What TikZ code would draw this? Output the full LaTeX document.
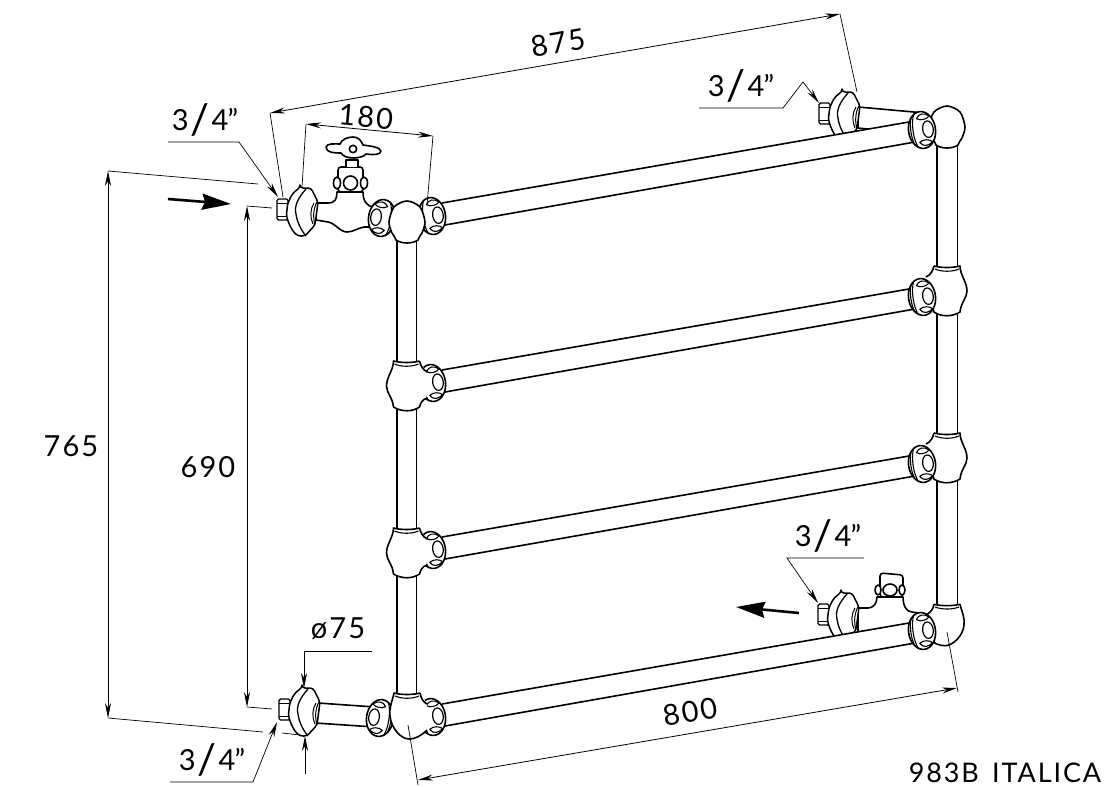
\documentclass[tikz,border=0pt]{standalone}
\usepackage{fontspec}
\setmainfont{Lato}
\newfontfamily\dimfont[LetterSpace=7]{Lato}
\usetikzlibrary{arrows.meta}
\newcommand{\threadlabel}{3\hspace{2pt}{\fontsize{42}{42}\selectfont\raisebox{-4pt}{/}}\hspace{2pt}4\hspace{-1pt}”}
\begin{document}
\begin{tikzpicture}[x=1pt,y=-1pt,
part/.style={black, line width=1.6pt, line join=round},
dimline/.style={black, line width=0.8pt, {Stealth[length=15pt,width=6pt]}-{Stealth[length=15pt,width=6pt]}},
extline/.style={black, line width=0.7pt},
leader/.style={black, line width=0.7pt, -{Stealth[length=15pt,width=6pt]}},
flowarrow/.style={black, line width=2.6pt, -{Stealth[length=29pt,width=16pt,inset=3pt]}},
dimtext/.style={inner sep=0pt, font=\dimfont\fontsize{29}{29}\selectfont},
rosette/.pic={
  \begin{scope}[rotate=8]
  \draw [part,fill=white] (0,0) ellipse [x radius=13.5, y radius=18.5];
  \draw [part,line width=1.1pt] (-6,-17) .. controls (-10,-8) and (-10,8) .. (-6,17);
  \draw [part,line width=1.1pt] (-9,-14) .. controls (-12,-6) and (-12,6) .. (-9,14);
  \draw [part,line width=1.2pt] (6,0) ellipse [x radius=5.3, y radius=8.3];
  \draw [part,line width=1.1pt] (-4,-12) .. controls (-1,-17) and (4,-17) .. (9,-13) .. controls (6,-10) and (0,-9) .. cycle;
  \draw [part,line width=1.1pt] (-4,12) .. controls (-1,17) and (4,17) .. (9,13) .. controls (6,10) and (0,9) .. cycle;
  \end{scope}
},
tee/.pic={
  \fill [white] (-13,-24) .. controls (-13,-15) and (-20,-8) .. (-20,1) .. controls (-20,8) and (-14,12) .. (-13,22)
    .. controls (-5,27) and (6,27) .. (13,22) -- (20,12) -- (20,-12) -- (13,-24) -- cycle;
  \draw [part] (13,-24) .. controls (6,-22) and (-6,-22) .. (-13,-24) .. controls (-13,-15) and (-20,-8) .. (-20,1)
    .. controls (-20,8) and (-14,12) .. (-13,22) .. controls (-5,27) and (6,27) .. (13,22) .. controls (14,18) and (16,14) .. (21,13);
  \draw [part] (13,-24) .. controls (14,-20) and (16,-15) .. (21,-13);
  \draw [part,line width=1.1pt] (-12,-21) .. controls (-5,-18) and (5,-18) .. (12,-21);
},
elbow/.pic={
  \fill [white] plot [smooth cycle] coordinates {(-18,0) (-13,-15) (0,-21) (13,-15) (18,0) (15,11) (11,18) (0,21) (-11,18) (-15,11)};
  \draw [part] plot [smooth] coordinates {(-15,11) (-18,0) (-13,-15) (0,-21) (13,-15) (18,0) (15,11)};
  \draw [part] (-15,11) .. controls (-13,14) and (-12,15) .. (-11,18) .. controls (-5,22) and (5,22) .. (11,18) .. controls (12,15) and (13,14) .. (15,11);
},
bend/.pic={
  \fill [white] (-13,-23) .. controls (-15,-14) and (-18,-8) .. (-17,0) .. controls (-16,12) and (-6,23) .. (2,23)
    .. controls (8,23) and (14,20) .. (20,14) -- (20,-12) -- (13,-23) -- cycle;
  \draw [part] (13,-23) .. controls (6,-21) and (-6,-21) .. (-13,-23) .. controls (-15,-14) and (-18,-8) .. (-17,0)
    .. controls (-16,12) and (-6,23) .. (2,23) .. controls (8,23) and (14,20) .. (20,14);
  \draw [part] (13,-23) .. controls (14,-18) and (16,-14) .. (20,-12);
  \draw [part,line width=1.1pt] (-12,-20) .. controls (-5,-17) and (5,-17) .. (12,-20);
},
flange/.pic={
  \draw [part,line width=1.4pt,fill=white,rounded corners=1.5pt] (-26,-13) rectangle (-15,8);
  \draw [part,line width=1pt] (-26,-9) -- (-15,-9) (-26,4) -- (-15,4);
  \draw [part,line width=1.5pt,fill=white,rounded corners=3pt] (-3,-24) -- (8,-24) -- (15,-10) -- (12,13) -- (2,24) -- (-5,24) .. controls (-12,18) and (-17,6) .. (-16,-2) .. controls (-15,-12) and (-10,-20) .. cycle;
  \draw [part,line width=1.3pt] (3,-23) .. controls (-5,-14) and (-9,-6) .. (-7,2) .. controls (-6,10) and (-2,18) .. (3,24);
  \draw [part,line width=1pt] (11,-9) .. controls (7,-3) and (7,6) .. (10,12);
  \draw [part,line width=1pt] (14,-10) .. controls (10,-3) and (10,6) .. (12,13);
}
]
\useasboundingbox (0,0) rectangle (1119,787);
% vertical tubes
\draw [part] (397,235) -- (397,715) (416.5,235) -- (416.5,715);
\draw [part] (937,135) -- (937,615) (957.5,135) -- (957.5,615);
% valve top left
\filldraw [part,fill=white] (316,203) -- (328,203) .. controls (335,203) and (337,199) .. (337,192) -- (363,192) .. controls (363,200) and (366,207) .. (375,207)
  -- (375,227) -- (364,227) .. controls (358,228) and (353,232) .. (347,232) .. controls (340,232) and (335,223) .. (328,222) -- (316,220) -- cycle;
\filldraw [part,fill=white,rounded corners=3pt] (338,192) -- (338,167) -- (363,167) -- (363,192) -- cycle;
\draw [part,fill=white] (350.5,183) ellipse [x radius=7, y radius=7];
\draw [part,fill=white] (337,183) ellipse [x radius=3.5, y radius=6];
\draw [part,fill=white] (364,183) ellipse [x radius=3.5, y radius=6];
\draw [part,fill=white] (346,167) -- (346,160) -- (358,160) -- (358,167);
\draw [part,fill=white] (326,147) .. controls (327,143) and (335,144) .. (340,144) .. controls (342,139) and (348,137) .. (353,137) .. controls (358,137) and (361,140) .. (363,145)
  .. controls (370,146) and (380,147) .. (381,151) .. controls (381,155) and (373,155) .. (366,154) .. controls (362,159) and (345,160) .. (341,153) .. controls (335,153) and (326,153) .. (326,147) -- cycle;
\draw [part,fill=white] (353,149) circle [radius=3.7];
% valve bottom right
\filldraw [part,fill=white] (858,608) -- (868,608) .. controls (873,608) and (877,604) .. (877,597) -- (903,597) .. controls (903,605) and (906,612) .. (912,612) -- (925,614) -- (925,640) -- (858,640) -- cycle;
\filldraw [part,fill=white,rounded corners=3pt] (880,597) -- (880,573) -- (903,575) -- (903,597) -- cycle;
\draw [part,fill=white] (890,590) ellipse [x radius=7, y radius=6];
\draw [part,fill=white] (878,590) ellipse [x radius=3, y radius=5];
\draw [part,fill=white] (902,590) ellipse [x radius=3, y radius=5];
% pipes behind the bars
\filldraw [part,fill=white] (858,107) -- (925,113) -- (925,135) -- (858,128) -- cycle;
\filldraw [part,fill=white] (318,703) -- (375,707) -- (375,727) -- (315,723) -- cycle;
% flanges
\pic at (303,212) {flange};
\pic at (845,116) {flange};
\pic at (844,617) {flange};
\pic at (305,712) {flange};
% bars
\foreach \dy in {0,167,334,501} {
  \fill [white] (442,{203+\dy}) -- (909,{122+\dy}) -- (915,{142+\dy}) -- (445,{225+\dy}) -- cycle;
  \draw [part] (442,{203+\dy}) -- (909,{122+\dy}) (445,{225+\dy}) -- (915,{142+\dy});
}
% joints on the left
\foreach \dy in {0,167,334,501}
  \pic at (432,{216+\dy}) {rosette};
\pic [xscale=-1] at (382,218) {rosette};
\pic [xscale=-1] at (380,718) {rosette};
\pic at (407,222) {elbow};
\pic at (406.5,385) {tee};
\pic at (406.5,552) {tee};
\pic at (407,716) {bend};
% joints on the right
\pic at (947,127) {elbow};
\pic [xscale=-1] at (947,290) {tee};
\pic [xscale=-1] at (947,457) {tee};
\pic [xscale=-1,yscale=.9] at (947,625) {bend};
\foreach \dy in {0,167,334,501}
  \pic at (922,{130+\dy}) {rosette};
% dimension points
\coordinate (a1) at (270,113);
\coordinate (a2) at (840,14);
\coordinate (a3) at (283,197);
\coordinate (a4) at (857,92);
\coordinate (b1) at (306,124);
\coordinate (b2) at (433,136);
\coordinate (b3) at (302,187);
\coordinate (b4) at (427,205);
\coordinate (c1) at (108,171);
\coordinate (c2) at (108,718);
\coordinate (c3) at (258,184);
\coordinate (c4) at (263,732);
\coordinate (d1) at (247,206);
\coordinate (d2) at (247,707);
\coordinate (d3) at (272,208);
\coordinate (d4) at (272,709);
\coordinate (e1) at (418,780);
\coordinate (e2) at (957,688);
\coordinate (e3) at (408,725);
\coordinate (e4) at (947,632);
\coordinate (e5) at (418,785);
\coordinate (e6) at (958,692);
\coordinate (f1) at (372,651);
\coordinate (f2) at (304,651);
\coordinate (f3) at (304,688);
\coordinate (f4) at (305,774);
\coordinate (f5) at (305,736);
\coordinate (f6) at (282,733);
\coordinate (f7) at (300,735);
\coordinate (g1) at (168,142);
\coordinate (g2) at (239,142);
\coordinate (g3) at (278,197);
\coordinate (h1) at (699,108);
\coordinate (h2) at (783,108);
\coordinate (h3) at (803,82);
\coordinate (h4) at (819,103);
\coordinate (i1) at (864,558);
\coordinate (i2) at (787,558);
\coordinate (i3) at (818,603);
\coordinate (j1) at (170,782);
\coordinate (j2) at (253,782);
\coordinate (j3) at (277,722);
\coordinate (k1) at (168,199);
\coordinate (k2) at (231,204);
\coordinate (k3) at (799,613);
\coordinate (k4) at (736,607);
% dimensions
\draw [dimline] (a1) -- (a2);
\draw [extline] (a1) -- (a3);
\draw [extline] (a2) -- (a4);
\draw [dimline] (b1) -- (b2);
\draw [extline] (b1) -- (b3);
\draw [extline] (b2) -- (b4);
\draw [dimline] (c1) -- (c2);
\draw [extline] (c1) -- (c3);
\draw [extline] (c2) -- (c4);
\draw [dimline] (d1) -- (d2);
\draw [extline] (d1) -- (d3);
\draw [extline] (d2) -- (d4);
\draw [dimline] (e1) -- (e2);
\draw [extline] (e3) -- (e5);
\draw [extline] (e4) -- (e6);
\draw [leader] (f1) -- (f2) -- (f3);
\draw [leader] (f4) -- (f5);
\draw [extline] (f6) -- (f7);
\draw [leader] (g1) -- (g2) -- (g3);
\draw [leader] (h1) -- (h2) -- (h3) -- (h4);
\draw [leader] (i1) -- (i2) -- (i3);
\draw [leader] (j1) -- (j2) -- (j3);
\draw [flowarrow] (k1) -- (k2);
\draw [flowarrow] (k3) -- (k4);
% labels
\node [dimtext,rotate=10] (l875) at (558,43) {875};
\node [dimtext,rotate=-5] (l180) at (366,117) {180};
\node [dimtext] (l765) at (71,446) {765};
\node [dimtext] (l690) at (208,467) {690};
\node [dimtext,rotate=10] (l800) at (690,712) {800};
\node [dimtext] (l75) at (338,629) {ø75};
\node [dimtext] (lthreadA) at (205,120) {\threadlabel};
\node [dimtext] (lthreadB) at (741,86) {\threadlabel};
\node [dimtext] (lthreadC) at (828,536) {\threadlabel};
\node [dimtext] (lthreadD) at (212,760) {\threadlabel};
\node [dimtext,font=\dimfont\fontsize{27}{27}\selectfont] (lmodel) at (1005,773) {983B\, ITALICA};
\end{tikzpicture}
\end{document}
